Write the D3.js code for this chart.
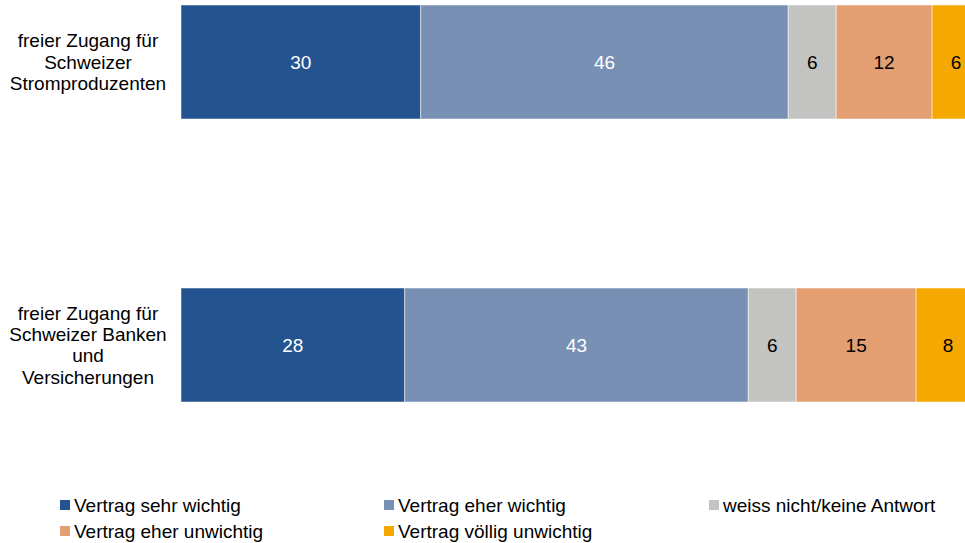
<!DOCTYPE html>
<html><head><meta charset="utf-8">
<script src="https://cdn.jsdelivr.net/npm/d3@7"></script>
<style>body{margin:0;background:#fff;overflow:hidden}svg{display:block}text{font-family:"Liberation Sans",Arial,sans-serif}</style>
</head><body>
<script>
const categories = [["freier Zugang für","Schweizer","Stromproduzenten"],["freier Zugang für","Schweizer Banken","und","Versicherungen"]];
const seriesNames = ["Vertrag sehr wichtig","Vertrag eher wichtig","weiss nicht/keine Antwort","Vertrag eher unwichtig","Vertrag völlig unwichtig"];
const seriesColors = ["#24548f","#7790b4","#c3c3c1","#e39e72","#f5a800"];
const labelColors = ["#ffffff","#ffffff","#000000","#000000","#000000"];
const values = [[30,46,6,12,6],[28,43,6,15,8]];

const W=965,H=543;
const svg=d3.select("body").append("svg").attr("width",W).attr("height",H);
const x=d3.scaleLinear().domain([0,100]).range([181,980]);
const yb=d3.scaleLinear().domain([0,1]).range([5,288]);
const FS=19;

values.forEach((row,i)=>{
  const g=svg.append("g");
  let cum=0;
  const segs=row.map((v,j)=>{const s={v,j,x0:cum};cum+=v;return s;});
  g.selectAll("rect").data(segs).join("rect")
    .attr("x",d=>x(d.x0)).attr("width",d=>x(d.x0+d.v)-x(d.x0))
    .attr("y",yb(i)).attr("height",114)
    .attr("fill",d=>seriesColors[d.j]).attr("stroke","#ffffff").attr("stroke-opacity",0.5).attr("stroke-width",1);
  g.selectAll("text.v").data(segs).join("text").attr("class","v")
    .attr("x",d=>x(d.x0+d.v/2)).attr("y",yb(i)+57).attr("dy","0.35em")
    .attr("text-anchor","middle").attr("font-size",FS).attr("fill",d=>labelColors[d.j]).text(d=>d.v);
  const lines=categories[i];
  const lh=21.3;
  const t=svg.append("text").attr("text-anchor","middle").attr("font-size",FS).attr("fill","#000");
  lines.forEach((l,k)=>{
    t.append("tspan").attr("x",88).attr("y",yb(i)+57+(k-(lines.length-1)/2)*lh).attr("dy","0.35em").text(l);
  });
});

const legPos=[[60,505],[384,505],[709,505],[60,531],[384,531]];
seriesNames.forEach((n,j)=>{
  const [lx,ly]=legPos[j];
  svg.append("rect").attr("x",lx).attr("y",ly-5).attr("width",10).attr("height",10).attr("fill",seriesColors[j]);
  svg.append("text").attr("x",lx+14).attr("y",ly).attr("dy","0.35em").attr("font-size",FS).attr("fill","#000").text(n);
});
</script>
</body></html>
